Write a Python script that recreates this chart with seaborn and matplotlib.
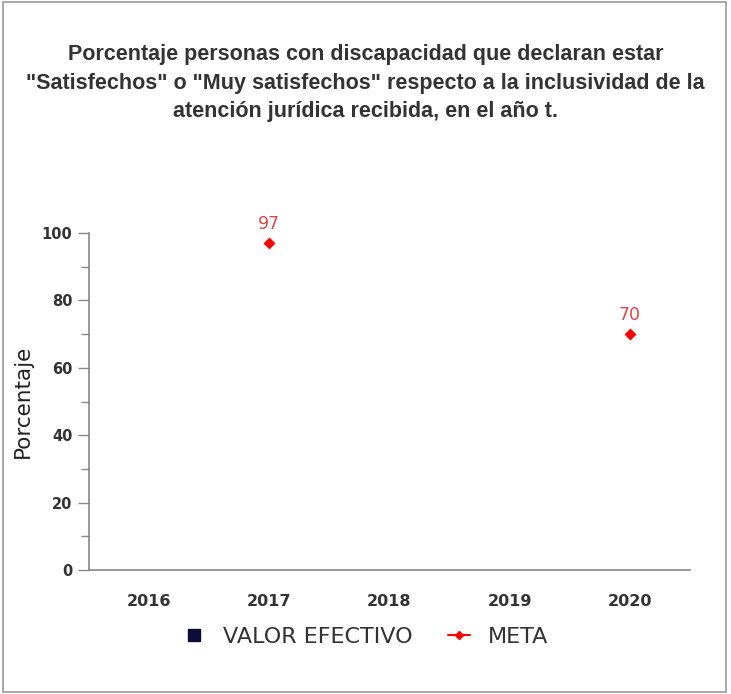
import numpy as np
import pandas as pd
import matplotlib
matplotlib.use('Agg')
import matplotlib.pyplot as plt
from matplotlib.lines import Line2D
from matplotlib.patches import Rectangle
import seaborn as sns

# datos
years = ['2016', '2017', '2018', '2019', '2020']
valor_efectivo = [np.nan, np.nan, np.nan, np.nan, np.nan]
meta = [np.nan, 97, np.nan, np.nan, 70]

title = ('Porcentaje personas con discapacidad que declaran estar\n'
         '"Satisfechos" o "Muy satisfechos" respecto a la inclusividad de la\n'
         'atención jurídica recibida, en el año t.')

df = pd.DataFrame({'year': years, 'valor': valor_efectivo, 'meta': meta})

sns.set_style('white')
plt.rcParams['font.family'] = ['DejaVu Sans']

fig = plt.figure(figsize=(7.31, 6.94), dpi=100)
ax = fig.add_axes([89 / 731, 1 - 570 / 694, (690 - 89) / 731, (570 - 233) / 694])

# valor efectivo (sin datos) y meta
sns.barplot(data=df, x='year', y='valor', order=years, color='#0d0d3a', ax=ax)
sns.pointplot(data=df, x='year', y='meta', order=years, color='red',
              markers='D', linestyles='none', markersize=4, ax=ax)

for i, v in enumerate(meta):
    if not np.isnan(v):
        ax.annotate(f'{v:g}', (i, v), xytext=(0, 7), textcoords='offset points',
                    ha='center', va='bottom', color='#d9474f', fontsize=12.5)

ax.set_xlim(-0.5, 4.5)
ax.set_ylim(0, 100)
ax.set_yticks([0, 20, 40, 60, 80, 100])
ax.set_yticks(np.arange(0, 101, 10), minor=True)
ax.set_xlabel('')
ax.set_ylabel('Porcentaje', fontsize=15.5, color='#222222', labelpad=6)
for s in ['top', 'right']:
    ax.spines[s].set_visible(False)
for s in ['left', 'bottom']:
    ax.spines[s].set_color('#888888')
    ax.spines[s].set_linewidth(1.2)
ax.tick_params(axis='y', which='major', left=True, length=8, width=1, color='#888888',
               labelsize=10.5, labelcolor='#333333', pad=4)
ax.tick_params(axis='y', which='minor', left=True, length=5.5, width=1, color='#888888')
ax.tick_params(axis='x', bottom=False, labelsize=11.5, labelcolor='#333333', pad=14)
for lab in ax.get_xticklabels() + ax.get_yticklabels():
    lab.set_fontweight('bold')

fig.text(0.5, 1 - 83 / 694, title, ha='center', va='center', fontsize=15.5,
         fontweight='bold', family='Liberation Sans', color='#333333', linespacing=1.45)

handles = [Line2D([], [], marker='s', color='#0d0d3a', linestyle='none', markersize=9),
           Line2D([], [], marker='D', color='red', markersize=4, linewidth=1.5)]
fig.legend(handles, ['VALOR EFECTIVO', 'META'], loc='center',
           bbox_to_anchor=(0.5, 1 - 637 / 694), ncol=2, frameon=False,
           fontsize=16, handlelength=1.0, columnspacing=1.6, handletextpad=0.8,
           labelcolor='#333333')

fig.patches.append(Rectangle((3 / 731, 2 / 694), 723 / 731, 690 / 694,
                             transform=fig.transFigure, fill=False,
                             edgecolor='#999999', linewidth=1.2))

fig.savefig('out.png', dpi=100)
